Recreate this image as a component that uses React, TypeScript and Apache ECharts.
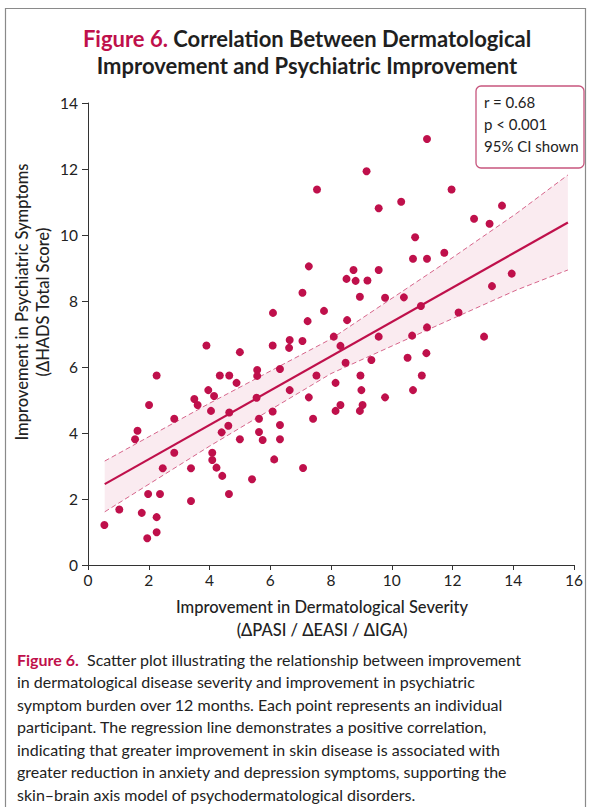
import React, { useEffect, useRef } from "react";
import * as echarts from "echarts";

// Improvement in dermatological severity (x) and psychiatric symptoms (y), one pair per participant
const dermImprovement = [
  7.23, 3.9, 5.0, 6.08, 6.64, 6.62, 7.06, 2.26, 4.34, 4.65, 4.89, 5.57, 5.57, 6.32, 7.52, 3.96, 4.15, 6.64,
  3.5, 3.61, 5.55, 7.27, 2.01, 4.05, 4.65, 6.08, 2.84, 5.63, 7.41, 4.62, 6.32, 4.4, 5.63, 1.63, 1.55, 5.0,
  5.75, 6.32, 2.84, 4.09, 4.09, 6.13, 2.46, 3.39, 4.23, 7.08, 4.42, 5.4, 1.98, 2.37, 4.64, 3.39, 1.03, 1.77,
  2.26, 0.54, 2.26, 1.95, 7.54, 7.27, 7.06, 6.09, 7.77, 11.16, 9.17, 11.97, 9.57, 10.31, 13.63, 12.71, 13.22,
  10.77, 10.7, 11.16, 11.73, 8.74, 9.57, 8.51, 8.81, 9.2, 13.95, 13.3, 8.95, 9.78, 10.4, 10.96, 8.53, 12.2,
  11.16, 8.09, 8.31, 9.57, 10.67, 13.04, 8.48, 9.33, 10.52, 11.14, 8.15, 8.97, 9.0, 10.99, 10.7, 9.78, 8.31,
  8.15, 9.04, 8.95,
];
const psychImprovement = [
  7.39, 6.65, 6.45, 6.65, 6.82, 6.58, 6.79, 5.74, 5.74, 5.74, 5.52, 5.91, 5.73, 5.94, 5.74, 5.3, 5.12, 5.3,
  5.03, 4.85, 5.07, 5.08, 4.85, 4.67, 4.62, 4.65, 4.43, 4.43, 4.43, 4.22, 4.24, 4.02, 4.03, 4.07, 3.81, 3.81,
  3.79, 3.81, 3.4, 3.4, 3.18, 3.2, 2.93, 2.93, 2.95, 2.94, 2.7, 2.6, 2.15, 2.15, 2.15, 1.94, 1.68, 1.58,
  1.45, 1.21, 0.99, 0.81, 11.38, 9.05, 8.25, 7.64, 7.7, 12.91, 11.93, 11.38, 10.81, 11.01, 10.89, 10.49, 10.34,
  9.93, 9.28, 9.28, 9.46, 8.94, 8.94, 8.67, 8.61, 8.62, 8.83, 8.45, 8.13, 8.1, 8.11, 7.85, 7.42, 7.65,
  7.2, 6.92, 6.64, 6.92, 6.95, 6.92, 6.13, 6.21, 6.28, 6.42, 5.52, 5.74, 5.3, 5.74, 5.3, 5.08, 4.85,
  4.67, 4.85, 4.67,
];

// Regression line end points and 95% CI band
const regressionX = [0.55, 15.8];
const regressionY = [2.45, 10.38];
const bandX = [0.55, 4, 8, 11.6, 14.1, 15.8];
const bandUpper = [3.15, 4.9, 6.85, 9.06, 10.65, 11.82];
const bandLower = [1.61, 3.6, 5.8, 7.3, 8.33, 8.94];

const xTicks = [0, 2, 4, 6, 8, 10, 12, 14, 16];
const yTicks = [0, 2, 4, 6, 8, 10, 12, 14];

const statLines = ["r = 0.68", "p < 0.001", "95% CI shown"];
const titleLines = ["Correlation Between Dermatological", "Improvement and Psychiatric Improvement"];
const captionLines = [
  "Scatter plot illustrating the relationship between improvement",
  "in dermatological disease severity and improvement in psychiatric",
  "symptom burden over 12 months. Each point represents an individual",
  "participant. The regression line demonstrates a positive correlation,",
  "indicating that greater improvement in skin disease is associated with",
  "greater reduction in anxiety and depression symptoms, supporting the",
  "skin\u2013brain axis model of psychodermatological disorders.",
];

const CRIMSON = "#bf104b";
const FONT = "Lato, 'Open Sans', sans-serif";

export default function App() {
  const ref = useRef<HTMLDivElement>(null);

  useEffect(() => {
    if (!ref.current) return;
    const chart = echarts.init(ref.current, null, { renderer: "svg" });

    const points = dermImprovement.map((x, i) => [x, psychImprovement[i]]);
    const regData = regressionX.map((x, i) => [x, regressionY[i]]);
    const upperData = bandX.map((x, i) => [x, bandUpper[i]]);
    const lowerData = bandX.map((x, i) => [x, bandLower[i]]);

    const captionGraphics: any[] = captionLines.map((line, i) => {
      if (i === 0) {
        return {
          type: "text",
          left: 17,
          top: 651,
          style: {
            text: "{b|Figure 6.}  " + line,
            font: `16px ${FONT}`,
            fill: "#222",
            rich: {
              b: { fontWeight: "bold", fill: CRIMSON, fontSize: 16, fontFamily: FONT },
            },
          },
        };
      }
      return {
        type: "text",
        left: 17,
        top: 651 + i * 22.5,
        style: { text: line, font: `16px ${FONT}`, fill: "#222" },
      };
    });

    const option: any = {
      animation: false,
      backgroundColor: "#fff",
      grid: { left: 88, right: 16, top: 103, bottom: 242, containLabel: false },
      xAxis: {
        type: "value",
        min: 0,
        max: 16,
        interval: 2,
        axisLine: { show: true, lineStyle: { color: "#333", width: 1 } },
        axisTick: { show: true, length: 5, lineStyle: { color: "#333" } },
        axisLabel: { color: "#222", fontSize: 15.5, fontFamily: FONT, margin: 7 },
        splitLine: { show: false },
        data: xTicks,
      },
      yAxis: {
        type: "value",
        min: 0,
        max: 14,
        interval: 2,
        axisLine: { show: true, lineStyle: { color: "#333", width: 1 } },
        axisTick: { show: true, length: 6, lineStyle: { color: "#333" } },
        axisLabel: { color: "#222", fontSize: 15.5, fontFamily: FONT, margin: 10 },
        splitLine: { show: false },
        data: yTicks,
      },
      series: [
        {
          type: "custom",
          silent: true,
          z: 1,
          data: [[bandX[0], bandUpper[0]]],
          renderItem: (params: any, api: any) => {
            const pts: number[][] = [];
            bandX.forEach((x, i) => pts.push(api.coord([x, bandUpper[i]])));
            for (let i = bandX.length - 1; i >= 0; i--) pts.push(api.coord([bandX[i], bandLower[i]]));
            return {
              type: "polygon",
              shape: { points: pts },
              style: { fill: "rgba(214, 70, 120, 0.11)", stroke: "none" },
            };
          },
        },
        {
          type: "line",
          data: upperData,
          symbol: "none",
          z: 2,
          lineStyle: { color: CRIMSON, width: 0.9, type: [5, 3], opacity: 0.7 },
        },
        {
          type: "line",
          data: lowerData,
          symbol: "none",
          z: 2,
          lineStyle: { color: CRIMSON, width: 0.9, type: [5, 3], opacity: 0.7 },
        },
        {
          type: "line",
          data: regData,
          symbol: "none",
          z: 3,
          lineStyle: { color: CRIMSON, width: 2.2 },
        },
        {
          type: "scatter",
          data: points,
          symbol: "circle",
          symbolSize: 8,
          z: 4,
          itemStyle: { color: CRIMSON, opacity: 1 },
        },
      ],
      graphic: [
        {
          type: "rect",
          shape: { x: 5.5, y: 8.5, width: 580, height: 820 },
          style: { fill: "none", stroke: "#8a8a8a", lineWidth: 1.2 },
          z: 0,
        },
        {
          type: "text",
          x: 307,
          y: 38,
          style: {
            text: "{r|Figure 6.} " + titleLines[0],
            font: `bold 22px ${FONT}`,
            fill: "#1f1f1f",
            align: "center",
            verticalAlign: "middle",
            rich: { r: { fill: CRIMSON, fontWeight: "bold", fontSize: 22, fontFamily: FONT } },
          },
        },
        {
          type: "text",
          x: 307,
          y: 65,
          style: {
            text: titleLines[1],
            font: `bold 22px ${FONT}`,
            fill: "#1f1f1f",
            align: "center",
            verticalAlign: "middle",
          },
        },
        {
          type: "rect",
          shape: { x: 476, y: 86, width: 108, height: 82, r: 5 },
          style: { fill: "#fff", stroke: "#c7557d", lineWidth: 1.3 },
          z: 10,
        },
        ...statLines.map((t, i) => ({
          type: "text",
          left: 484,
          top: 94 + i * 22,
          z: 11,
          style: { text: t, font: `15px ${FONT}`, fill: "#222" },
        })),
        {
          type: "text",
          x: 322,
          y: 607,
          style: {
            text: "Improvement in Dermatological Severity",
            font: `500 16.5px ${FONT}`,
            fill: "#222",
            align: "center",
            verticalAlign: "middle",
          },
        },
        {
          type: "text",
          x: 322,
          y: 630,
          style: {
            text: "(\u0394PASI / \u0394EASI / \u0394IGA)",
            font: `500 16.5px ${FONT}`,
            fill: "#222",
            align: "center",
            verticalAlign: "middle",
          },
        },
        {
          type: "text",
          x: 22,
          y: 302,
          rotation: Math.PI / 2,
          style: {
            text: "Improvement in Psychiatric Symptoms",
            font: `500 16.5px ${FONT}`,
            fill: "#222",
            align: "center",
            verticalAlign: "middle",
          },
        },
        {
          type: "text",
          x: 43,
          y: 302,
          rotation: Math.PI / 2,
          style: {
            text: "(\u0394HADS Total Score)",
            font: `500 16.5px ${FONT}`,
            fill: "#222",
            align: "center",
            verticalAlign: "middle",
          },
        },
        ...captionGraphics,
      ],
    };

    chart.setOption(option);
    return () => chart.dispose();
  }, []);

  return (
    <div
      ref={ref}
      style={{ position: "absolute", left: 0, top: 0, width: 590, height: 807, background: "#fff" }}
    />
  );
}
